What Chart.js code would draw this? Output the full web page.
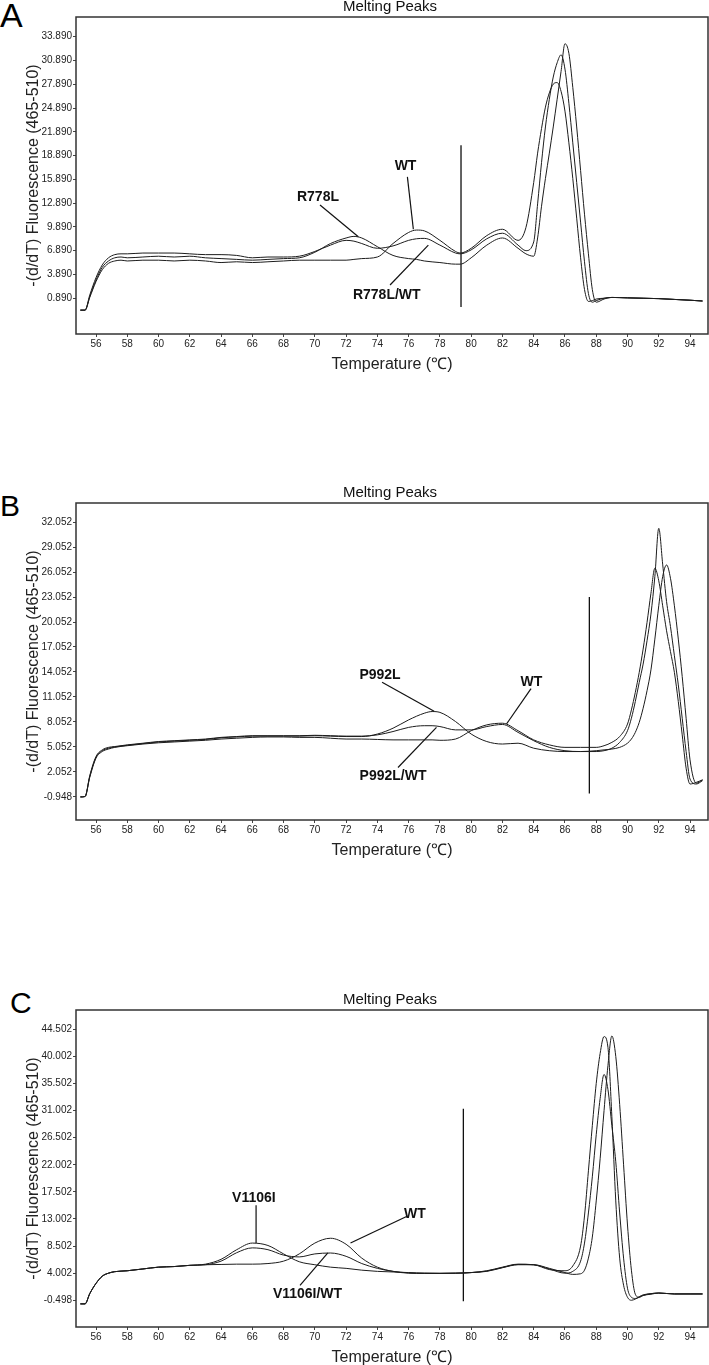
<!DOCTYPE html>
<html>
<head>
<meta charset="utf-8">
<script src="https://cdn.jsdelivr.net/npm/chart.js@4.4.0/dist/chart.umd.min.js"></script>
<style>
  body { margin: 0; background: #fff; width: 709px; height: 1365px; overflow: hidden; position: relative; font-family: "Liberation Sans", Arial, sans-serif; }
  .panel { position: absolute; left: 0; width: 709px; height: 390px; }
  .letter { position: absolute; line-height: 1; color: #000; }
</style>
</head>
<body>
<div class="letter" style="left:0;top:-2px;font-size:34px">A</div>
<div class="letter" style="left:0;top:491px;font-size:30px">B</div>
<div class="letter" style="left:10px;top:988px;font-size:30px">C</div>

<div class="panel" style="top:0"><canvas id="chartA" width="709" height="390"></canvas></div>
<div class="panel" style="top:486px"><canvas id="chartB" width="709" height="390"></canvas></div>
<div class="panel" style="top:993px"><canvas id="chartC" width="709" height="390"></canvas></div>

<script>
// x axis (temperature, degC)
const xTicks = [56, 58, 60, 62, 64, 66, 68, 70, 72, 74, 76, 78, 80, 82, 84, 86, 88, 90, 92, 94];

// ---- Panel A: R778L ----
const yTicksA = [0.89, 3.89, 6.89, 9.89, 12.89, 15.89, 18.89, 21.89, 24.89, 27.89, 30.89, 33.89];
const tempsA = [55.0, 55.3, 55.6, 56.0, 56.4, 56.8, 57.2, 57.6, 58, 59, 60, 61, 62, 63, 64, 65, 66, 67, 68, 69,
  70, 71, 72, 72.5, 73, 74, 75, 76, 76.5, 77, 78, 79, 79.3, 80, 81, 82, 83, 83.5,
  84, 84.25, 84.5, 84.75, 85, 85.25, 85.5, 85.75, 86, 86.25, 86.5, 86.75, 87, 87.25, 87.5, 87.75,
  88, 88.5, 89, 90, 91, 92, 93, 94, 94.8];
const wtA = [-0.6, -0.6, 1.0, 3.0, 4.5, 5.3, 5.6, 5.7, 5.6, 5.7, 5.7, 5.6, 5.7, 5.6, 5.4, 5.5, 5.4, 5.5, 5.6, 5.7,
  5.7, 5.7, 5.7, 5.8, 5.9, 6.1, 7.8, 9.2, 9.5, 9.4, 8.2, 6.8, 6.6, 7.2, 8.8, 9.6, 8.2, 9.8,
  15.5, 19.2, 22.3, 25.0, 26.8, 27.9, 28.1, 27.0, 24.5, 20.5, 16.0, 11.0, 6.0, 2.0, 0.5, 0.6,
  0.8, 0.9, 1.0, 0.95, 0.9, 0.85, 0.75, 0.65, 0.55];
const hetA = [-0.6, -0.6, 1.3, 3.5, 5.1, 6.0, 6.4, 6.5, 6.5, 6.6, 6.6, 6.6, 6.5, 6.4, 6.4, 6.3, 6.0, 6.1, 6.1, 6.2,
  6.8, 7.6, 8.2, 8.1, 7.8, 7.2, 7.5, 8.2, 8.4, 8.45, 7.6, 6.6, 6.5, 7.0, 8.4, 9.1, 7.6, 6.9,
  8.0, 12.8, 18.0, 22.5, 26.0, 28.8, 30.6, 31.6, 29.8, 25.5, 20.5, 15.5, 10.5, 5.5, 1.5, 0.4,
  0.6, 0.9, 1.0, 0.95, 0.9, 0.85, 0.75, 0.65, 0.55];
const r778lA = [-0.6, -0.6, 1.1, 3.2, 4.8, 5.6, 6.0, 6.1, 6.0, 6.1, 6.2, 6.1, 6.2, 6.0, 5.9, 5.8, 5.7, 5.8, 5.9, 6.0,
  6.7, 7.8, 8.5, 8.7, 8.5, 7.4, 6.3, 5.9, 5.8, 5.6, 5.4, 5.2, 5.2, 6.0, 7.6, 8.5, 7.2, 6.5,
  6.2, 8.5, 12.5, 16.0, 19.2, 22.5, 26.0, 29.5, 33.0, 31.8, 27.5, 22.5, 17.0, 11.5, 6.5, 2.0,
  0.4, 0.8, 1.0, 0.95, 0.9, 0.85, 0.75, 0.65, 0.55];
const markerA = [79.35, 20.2, -0.2];             // temp, top, bottom
const labelsA = ["R778L", "WT", "R778L/WT"];
const labelPosA = [[70.2, 13.6], [75.8, 17.5], [74.6, 1.3]];
const leadersA = [[70.33, 12.65, 72.78, 8.66], [75.92, 16.2, 76.3, 9.6], [74.81, 2.57, 77.26, 7.6]];

// ---- Panel B: P992L ----
const yTicksB = [-0.948, 2.052, 5.052, 8.052, 11.052, 14.052, 17.052, 20.052, 23.052, 26.052, 29.052, 32.052];
const tempsB = [55.0, 55.3, 55.6, 56.0, 56.4, 56.8, 57.2, 58, 59, 60, 61, 62, 63, 64, 65, 66, 67, 68, 69,
  70, 71, 72, 73, 74, 75, 76, 77, 77.5, 78, 79, 80, 81, 82, 83, 84, 85, 86, 87, 88, 88.5, 89, 89.5,
  90, 90.25, 90.5, 90.75, 91, 91.25, 91.5, 91.75, 92, 92.25, 92.5, 92.75, 93, 93.25, 93.5, 93.75, 94, 94.4, 94.8];
const wtB = [-0.95, -0.9, 1.4, 3.7, 4.5, 4.8, 5.0, 5.2, 5.4, 5.55, 5.65, 5.75, 5.85, 6.0, 6.1, 6.2, 6.25, 6.25, 6.2,
  6.2, 6.1, 6.0, 6.0, 5.95, 5.9, 5.9, 5.9, 5.9, 5.85, 6.0, 7.0, 7.7, 7.9, 7.0, 5.9, 5.3, 5.0, 5.0, 5.0, 5.2, 5.6, 6.3,
  7.8, 9.5, 11.6, 14.0, 16.8, 20.0, 23.5, 26.5, 25.0, 22.0, 19.0, 16.5, 14.0, 10.5, 6.5, 2.5, 0.6, 0.8, 1.1];
const hetB = [-0.95, -0.9, 1.6, 3.9, 4.7, 5.0, 5.1, 5.3, 5.5, 5.7, 5.8, 5.9, 6.0, 6.2, 6.3, 6.4, 6.4, 6.4, 6.4,
  6.45, 6.4, 6.35, 6.35, 6.5, 6.9, 7.4, 7.6, 7.6, 7.5, 7.1, 7.1, 7.5, 7.75, 6.8, 5.8, 5.0, 4.6, 4.5, 4.5, 4.6, 4.9, 5.6,
  7.0, 8.5, 10.5, 12.8, 15.0, 17.8, 21.0, 25.5, 31.3, 27.0, 22.5, 19.5, 16.0, 12.5, 8.5, 4.5, 1.2, 0.6, 1.0];
const p992lB = [-0.95, -0.9, 1.5, 3.8, 4.6, 4.9, 5.05, 5.25, 5.45, 5.65, 5.75, 5.85, 5.95, 6.15, 6.25, 6.35, 6.35, 6.35, 6.35,
  6.4, 6.35, 6.3, 6.3, 6.6, 7.3, 8.3, 9.1, 9.3, 9.2, 8.1, 6.6, 5.7, 5.4, 5.5, 4.9, 4.6, 4.5, 4.5, 4.6, 4.7, 4.8, 5.0,
  5.5, 6.0, 6.8, 8.0, 9.7, 11.8, 14.3, 18.0, 22.0, 25.5, 26.9, 25.3, 22.0, 18.0, 13.5, 8.5, 3.5, 0.7, 1.1];
const markerB = [87.56, 23.06, -0.55];
const labelsB = ["P992L", "WT", "P992L/WT"];
const labelPosB = [[74.17, 13.63], [83.85, 12.82], [75.0, 1.58]];
const leadersB = [[74.3, 12.82, 77.63, 9.33], [83.83, 12.06, 82.26, 7.81], [75.32, 2.58, 77.78, 7.4]];

// ---- Panel C: V1106I ----
const yTicksC = [-0.498, 4.002, 8.502, 13.002, 17.502, 22.002, 26.502, 31.002, 35.502, 40.002, 44.502];
const tempsC = [55.0, 55.3, 55.6, 56.0, 56.4, 56.8, 57.2, 58, 59, 60, 61, 62, 63, 64, 65, 66, 67, 68, 69,
  70, 71, 72, 73, 74, 75, 76, 77, 78, 79, 80, 81, 82, 83, 84, 85, 86, 86.5, 87, 87.25, 87.5, 87.75,
  88, 88.25, 88.5, 88.75, 89, 89.25, 89.5, 89.75, 90, 90.25, 90.5, 90.75, 91, 91.5, 92, 93, 94, 94.8];
const v1106iC = [-1.1, -1.1, 0.6, 2.3, 3.5, 4.0, 4.25, 4.4, 4.7, 5.0, 5.1, 5.3, 5.5, 6.3, 7.9, 9.0, 8.6, 7.2, 5.9,
  5.4, 5.0, 4.8, 4.5, 4.3, 4.2, 4.1, 4.0, 4.0, 4.0, 4.1, 4.3, 4.9, 5.4, 5.4, 4.8, 4.1, 3.8, 3.9, 4.5, 6.5, 10.0,
  16.0, 23.0, 31.0, 38.5, 43.4, 40.0, 32.0, 22.0, 12.0, 4.5, 0.5, 0.0, 0.3, 0.5, 0.7, 0.55, 0.55, 0.55];
const wtC = [-1.1, -1.1, 0.6, 2.3, 3.5, 4.0, 4.25, 4.4, 4.7, 5.0, 5.1, 5.3, 5.4, 5.45, 5.5, 5.5, 5.6, 6.0, 7.2,
  9.0, 9.8, 8.8, 6.5, 5.0, 4.3, 4.0, 3.95, 3.95, 4.0, 4.1, 4.4, 5.0, 5.5, 5.4, 4.6, 4.4, 5.2, 8.5, 13.5, 21.0, 28.5,
  35.5, 40.5, 43.3, 41.5, 30.0, 16.0, 6.5, 2.0, 0.0, -0.5, -0.3, 0.0, 0.3, 0.6, 0.7, 0.55, 0.55, 0.55];
const hetC = [-1.1, -1.1, 0.6, 2.3, 3.5, 4.0, 4.25, 4.4, 4.7, 5.0, 5.1, 5.3, 5.4, 6.0, 7.4, 8.2, 7.9, 7.0, 6.7,
  7.2, 7.35, 6.8, 5.6, 4.8, 4.3, 4.05, 4.0, 3.95, 4.0, 4.1, 4.35, 4.95, 5.45, 5.4, 4.7, 4.0, 4.3, 6.0, 9.0, 14.0, 20.0,
  27.0, 33.0, 37.0, 34.5, 28.5, 22.5, 14.0, 6.5, 1.5, 0.0, -0.2, 0.1, 0.4, 0.6, 0.7, 0.55, 0.55, 0.55];
const markerC = [79.5, 31.3, -0.66];
const labelsC = ["V1106I", "WT", "V1106I/WT"];
const labelPosC = [[66.1, 16.5], [76.4, 13.79], [69.53, 0.5]];
const leadersC = [[66.24, 15.28, 66.24, 8.97], [75.9, 13.45, 72.28, 9.02], [69.05, 1.99, 70.83, 7.36]];

const FONT = '"Liberation Sans", Arial, sans-serif';
const NARROW = '"Liberation Sans Narrow", "Liberation Sans", Arial, sans-serif';
const INK = "#1c1c1c";

// box round the plot, title over it, bold mutation labels
const panelDecor = {
  id: "panelDecor",
  afterDatasetsDraw(chart, args, opts) {
    const { ctx, chartArea: a, scales: { x, y } } = chart;
    ctx.save();
    ctx.strokeStyle = "#333";
    ctx.lineWidth = 1.5;
    ctx.strokeRect(a.left, a.top, a.right - a.left, a.bottom - a.top);

    ctx.fillStyle = "#111";
    ctx.textAlign = "center";
    ctx.textBaseline = "middle";
    ctx.font = "15px " + FONT;
    ctx.fillText("Melting Peaks", (a.left + a.right) / 2 - 2, Math.max(a.top - 11.5, 7));

    ctx.font = "bold 14px " + FONT;
    opts.labels.forEach((txt, i) => {
      const p = opts.pos[i];
      ctx.fillText(txt, x.getPixelForValue(p[0]), y.getPixelForValue(p[1]));
    });
    ctx.restore();
  }
};

function curve(temps, vals) {
  return {
    data: temps.map((t, i) => ({ x: t, y: vals[i] })),
    borderColor: INK,
    borderWidth: 1,
    pointRadius: 0,
    cubicInterpolationMode: "monotone",
    fill: false
  };
}

function segment(x1, y1, x2, y2, w) {
  return {
    data: [{ x: x1, y: y1 }, { x: x2, y: y2 }],
    borderColor: "#111",
    borderWidth: w,
    pointRadius: 0,
    fill: false
  };
}

function makeChart(id, temps, series, yTicks, yMin, yMax, marker, labels, labelPos, leaders) {
  const datasets = series.map(s => curve(temps, s));
  datasets.push(segment(marker[0], marker[1], marker[0], marker[2], 1.3));
  leaders.forEach(l => datasets.push(segment(l[0], l[1], l[2], l[3], 1.2)));

  return new Chart(document.getElementById(id), {
    type: "line",
    data: { datasets },
    plugins: [panelDecor],
    options: {
      responsive: false,
      animation: false,
      events: [],
      layout: { padding: { top: 17, right: 1, left: 0, bottom: 0 } },
      plugins: {
        legend: { display: false },
        title: { display: false },
        tooltip: { enabled: false },
        panelDecor: { labels, pos: labelPos }
      },
      scales: {
        x: {
          type: "linear",
          min: 54.72,
          max: 95.15,
          afterBuildTicks: s => { s.ticks = xTicks.map(v => ({ value: v })); },
          afterFit: s => { s.height = 56; },
          ticks: { font: { size: 10, family: NARROW }, color: "#222", padding: 1, maxRotation: 0, autoSkip: false, callback: v => v },
          grid: { display: true, drawOnChartArea: false, drawTicks: true, tickLength: 3, color: "#444" },
          border: { display: false },
          title: { display: true, text: "Temperature (℃)", color: "#222", font: { size: 16, family: FONT }, padding: { top: 0, bottom: 16 } }
        },
        y: {
          type: "linear",
          min: yMin,
          max: yMax,
          afterBuildTicks: s => { s.ticks = yTicks.map(v => ({ value: v })); },
          afterFit: s => { s.width = 76; },
          ticks: { font: { size: 10, family: NARROW }, color: "#222", padding: 1, callback: v => v.toFixed(3) },
          grid: { display: true, drawOnChartArea: false, drawTicks: true, tickLength: 3, color: "#444" },
          border: { display: false },
          title: { display: true, text: "-(d/dT) Fluorescence (465-510)", color: "#222", font: { size: 16, family: FONT }, padding: { top: 24, bottom: 0 } }
        }
      }
    }
  });
}

makeChart("chartA", tempsA, [wtA, hetA, r778lA], yTicksA, -3.61, 36.37, markerA, labelsA, labelPosA, leadersA);
makeChart("chartB", tempsB, [wtB, hetB, p992lB], yTicksB, -3.72, 34.34, markerB, labelsB, labelPosB, leadersB);
makeChart("chartC", tempsC, [wtC, hetC, v1106iC], yTicksC, -4.94, 47.71, markerC, labelsC, labelPosC, leadersC);
</script>
</body>
</html>
